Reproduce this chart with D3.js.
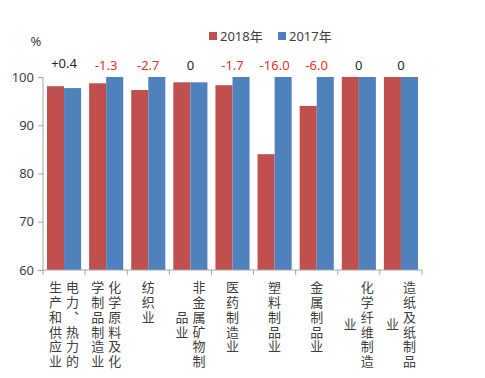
<!DOCTYPE html>
<html><head><meta charset="utf-8">
<script src="https://cdn.jsdelivr.net/npm/d3@7"></script>
<style>body{margin:0;background:#fff}svg{display:block}text{font-family:"Noto Sans","Noto Sans CJK SC",sans-serif}</style>
</head><body><svg id="c" width="485" height="378"></svg>
<script>
const categories = ["电力、热力的生产和供应业","化学原料及化学制品制造业","纺织业","非金属矿物制品业","医药制造业","塑料制品业","金属制品业","化学纤维制造业","造纸及纸制品业"];
const seriesNames = ["2018年","2017年"];
const values2018 = [98.1, 98.7, 97.3, 98.9, 98.3, 84.0, 94.0, 100, 100];
const values2017 = [97.7, 100, 100, 98.9, 100, 100, 100, 100, 100];
const diffLabels = ["+0.4","-1.3","-2.7","0","-1.7","-16.0","-6.0","0","0"];
const yTicks = [60, 70, 80, 90, 100];
const colors = ["#C0504D", "#4F81BD"];

(function(){
const svg = d3.select("#c");
const pL = 43, pR = 422, pT = 77, pB = 270;
const y = d3.scaleLinear().domain([60, 100]).range([pB, pT]);
const x0 = d3.scaleBand().domain(categories).range([pL, pR]).paddingInner(0.19).paddingOuter(0.095);
const x1 = d3.scaleBand().domain(seriesNames).range([0, x0.bandwidth()]);
const xc = d3.scaleBand().domain(categories).range([pL, pR]);

const data = categories.map((c, i) => ({c, v: [values2018[i], values2017[i]]}));
const g = svg.append("g");
data.forEach(d => {
  seriesNames.forEach((s, j) => {
    g.append("rect").attr("x", x0(d.c) + x1(s)).attr("width", x1.bandwidth())
      .attr("y", y(d.v[j])).attr("height", y(60) - y(d.v[j])).attr("fill", colors[j]);
  });
});

const yAxis = d3.axisLeft(y).tickValues(yTicks).tickSize(5).tickPadding(4);
const ya = svg.append("g").attr("transform", `translate(${pL},0)`).call(yAxis);
ya.select(".domain").attr("stroke", "#a6a6a6").attr("d", `M0,${pT}V${pB}`);
ya.selectAll(".tick line").attr("stroke", "#a6a6a6");
ya.selectAll(".tick text").attr("font-size", 13).attr("fill", "#404040")
  .style("font-family", "'Noto Sans', sans-serif");

const xa = svg.append("g");
xa.append("line").attr("x1", pL).attr("x2", pR).attr("y1", pB).attr("y2", pB).attr("stroke", "#a6a6a6");
categories.concat(["_end"]).forEach((c, i) => {
  const xx = i < categories.length ? xc(c) : pR;
  xa.append("line").attr("x1", xx).attr("x2", xx).attr("y1", pB).attr("y2", pB + 5).attr("stroke", "#a6a6a6");
});

const colGap = 17, rowGap = 14.7, perCol = 6, firstTop = 281;
categories.forEach(c => {
  const chars = Array.from(c);
  const cols = [];
  for (let i = 0; i < chars.length; i += perCol) cols.push(chars.slice(i, i + perCol));
  const cx = xc(c) + xc.bandwidth() / 2;
  const nCols = cols.length;
  const maxRows = cols[0].length;
  cols.forEach((col, k) => {
    const colX = cx + ((nCols - 1) / 2 - k) * colGap;
    const off = (maxRows - col.length) * rowGap / 2;
    svg.append("text").attr("x", colX).attr("y", firstTop + off)
      .style("writing-mode", "vertical-rl").style("text-orientation", "upright")
      .style("letter-spacing", (rowGap - 13) + "px")
      .attr("font-size", 13).attr("fill", "#404040")
      .style("font-family", "'Noto Sans CJK SC', sans-serif").text(col.join(""));
  });
});

diffLabels.forEach((t, i) => {
  const cx = xc(categories[i]) + xc.bandwidth() / 2;
  const black = (t === "0" || t.startsWith("+"));
  svg.append("text").attr("x", cx).attr("y", t.startsWith("+") ? 68 : 70)
    .attr("text-anchor", "middle").attr("font-size", 13)
    .attr("fill", black ? "#262626" : "#E8302A").text(t);
});

svg.append("text").attr("x", 36).attr("y", 46).attr("text-anchor", "middle")
  .attr("font-size", 13).attr("fill", "#404040").text("%");

const lg = svg.append("g");
const legX = [209, 278];
seriesNames.forEach((s, j) => {
  lg.append("rect").attr("x", legX[j]).attr("y", 32).attr("width", 8).attr("height", 8).attr("fill", colors[j]);
  lg.append("text").attr("x", legX[j] + 11).attr("y", 41).attr("font-size", 13).attr("fill", "#404040")
    .text(s);
});
})();
</script></body></html>
